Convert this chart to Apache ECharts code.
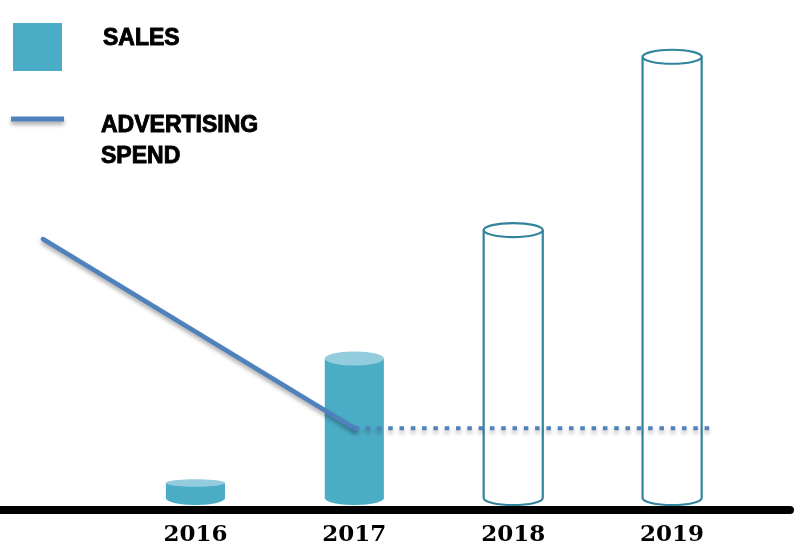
<!DOCTYPE html>
<html>
<head>
<meta charset="utf-8">
<script src="https://cdn.jsdelivr.net/npm/echarts@6/dist/echarts.min.js"></script>
<style>html,body{margin:0;padding:0;background:#fff}#c{width:804px;height:547px}</style>
</head>
<body>
<div id="c"></div>
<script>
// ---- data ----
var years = [2016, 2017, 2018, 2019];
var sales = [1.5, 14, 26.9, 44.3];
var projected = [0, 0, 1, 1];          // 1 = forecast (outlined cylinder)
var adX = [2015.04, 2017];             // advertising spend, actual
var adY = [26.0, 7.0];
var adProjX = [2017, 2019.26];         // advertising spend, forecast (flat)
var adProjY = [7.0, 7.0];
var tickLabels = ['2016', '2017', '2018', '2019'];
var legendNames = ['SALES', 'ADVERTISING\nSPEND'];

var FILL = '#4BACC6', TOP = '#93CDDD', OUT = '#31849B', LINE = '#4F81BD';
var BAR_W = 0.372; // in axis units

var barData = years.map(function (y, i) { return [y, sales[i], projected[i]]; });

function renderCylinder(params, api) {
  var x = api.value(0), v = api.value(1), proj = api.value(2);
  var p0 = api.coord([x, 0]);
  var p1 = api.coord([x, v]);
  var hw = api.size([BAR_W, 0])[0] / 2;
  var h = p0[1] - p1[1];
  var ry = Math.min(7, h / 4);
  var cx = p0[0];
  if (!proj) {
    return {
      type: 'group',
      children: [
        { type: 'ellipse', shape: { cx: cx, cy: p0[1], rx: hw, ry: 7 }, style: { fill: FILL } },
        { type: 'rect', shape: { x: cx - hw, y: p1[1], width: hw * 2, height: h }, style: { fill: FILL } },
        { type: 'ellipse', shape: { cx: cx, cy: p1[1], rx: hw, ry: ry }, style: { fill: TOP } }
      ]
    };
  }
  var pd = 'M' + (cx - hw) + ',' + p1[1] + ' L' + (cx - hw) + ',' + p0[1] +
    ' A' + hw + ',' + ry + ' 0 0 0 ' + (cx + hw) + ',' + p0[1] +
    ' L' + (cx + hw) + ',' + p1[1];
  return {
    type: 'group',
    children: [
      { type: 'path', shape: { pathData: pd }, style: { fill: null, stroke: OUT, lineWidth: 2.2 } },
      { type: 'ellipse', shape: { cx: cx, cy: p1[1], rx: hw, ry: ry }, style: { fill: '#fff', stroke: OUT, lineWidth: 2.2 } }
    ]
  };
}

var chart = echarts.init(document.getElementById('c'), null, { renderer: 'canvas' });
chart.setOption({
  animation: false,
  backgroundColor: '#fff',
  grid: { left: 0, right: 14, top: 0, bottom: 47 },
  xAxis: {
    type: 'value',
    min: 2014.770,
    max: 2019.742,
    offset: 12,
    splitLine: { show: false },
    axisTick: { show: false },
    axisLine: { show: true, onZero: false, lineStyle: { color: '#000', width: 8 } },
    axisLabel: {
      customValues: years,
      formatter: function (v) { return tickLabels[years.indexOf(Math.round(v))] || ''; },
      fontFamily: 'DejaVu Serif',
      fontWeight: 'bold',
      fontSize: 23,
      color: '#000',
      margin: 14
    }
  },
  yAxis: {
    type: 'value', min: 0, max: 50, show: false, splitLine: { show: false }
  },
  series: [
    {
      type: 'custom', name: 'SALES', renderItem: renderCylinder,
      data: barData, z: 2
    },
    {
      type: 'line', name: 'ADVERTISING SPEND', z: 5,
      data: adX.map(function (x, i) { return [x, adY[i]]; }),
      symbol: 'none',
      lineStyle: { color: LINE, width: 4.5, cap: 'round', shadowColor: 'rgba(0,0,0,0.35)', shadowBlur: 4, shadowOffsetY: 3 }
    },
    {
      type: 'line', name: 'ADVERTISING SPEND (forecast)', z: 5,
      data: adProjX.map(function (x, i) { return [x, adProjY[i]]; }),
      symbol: 'none',
      lineStyle: { color: LINE, width: 4, type: [4.5, 6.8], cap: 'butt', shadowColor: 'rgba(0,0,0,0.3)', shadowBlur: 4, shadowOffsetY: 3 }
    }
  ],
  graphic: [
    { type: 'rect', shape: { x: 13, y: 23, width: 49, height: 48 }, style: { fill: FILL } },
    { type: 'line', shape: { x1: 11, y1: 119, x2: 64, y2: 119 },
      style: { stroke: LINE, lineWidth: 5, shadowColor: 'rgba(0,0,0,0.35)', shadowBlur: 4, shadowOffsetY: 3 } },
    { type: 'text', x: 103, y: 39,
      style: { text: legendNames[0], fontFamily: 'Liberation Sans', fontWeight: 'bold', fontSize: 23, fill: '#000', stroke: '#000', lineWidth: 0.9, verticalAlign: 'middle' } },
    { type: 'text', x: 101, y: 110,
      style: { text: legendNames[1], fontFamily: 'Liberation Sans', fontWeight: 'bold', fontSize: 23, lineHeight: 31, fill: '#000', stroke: '#000', lineWidth: 0.9, verticalAlign: 'top' } }
  ]
});
</script>
</body>
</html>
